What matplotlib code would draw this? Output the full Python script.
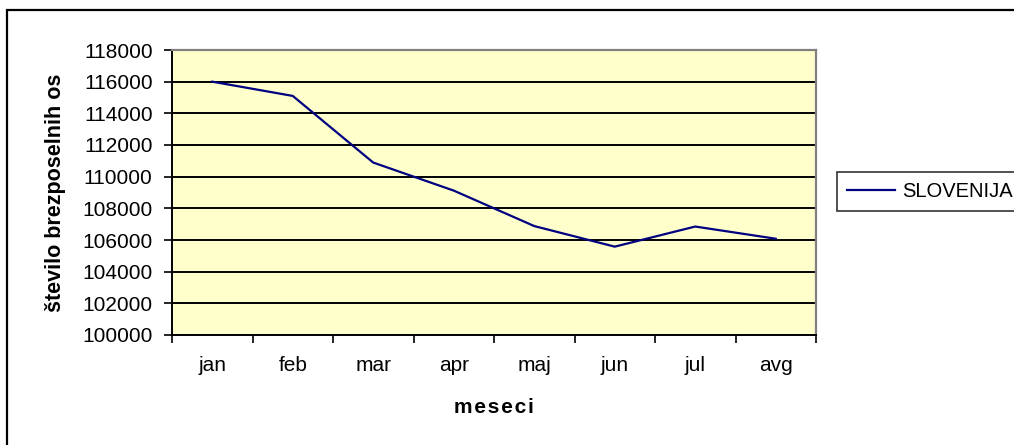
import matplotlib
matplotlib.use("Agg")
import matplotlib.pyplot as plt
from matplotlib.patches import Rectangle
from matplotlib.ticker import FixedLocator

months = ["jan", "feb", "mar", "apr", "maj", "jun", "jul", "avg"]
slovenija = [116000, 115100, 110890, 109120, 106880, 105580, 106850, 106080]
series_name = "SLOVENIJA"
y_ticks = list(range(100000, 118001, 2000))

plt.rcParams['font.family'] = ['Liberation Sans', 'DejaVu Sans']

W, H = 1014, 445
fig = plt.figure(figsize=(W / 100, H / 100), dpi=100)
fig.patch.set_facecolor('white')

# outer chart border (cropped on right and bottom)
fig.patches.append(Rectangle((7 / W, -0.05), 1.1, 1 - 10 / H + 0.05,
                             transform=fig.transFigure, fill=False,
                             edgecolor='black', linewidth=1.6, zorder=0))

ax = fig.add_axes([172 / W, 1 - 335 / H, (816 - 172) / W, (335 - 50) / H])
ax.set_facecolor('#FFFFCC')

x = list(range(len(months)))
line, = ax.plot(x, slovenija, color='#000080', linewidth=1.6, label=series_name, zorder=3)

ax.set_xlim(-0.5, len(months) - 0.5)
ax.set_ylim(y_ticks[0], y_ticks[-1])
ax.set_yticks(y_ticks)
ax.set_yticklabels([str(v) for v in y_ticks])
ax.set_xticks(x)
ax.set_xticklabels(months)
ax.xaxis.set_minor_locator(FixedLocator([i - 0.5 for i in range(len(months) + 1)]))

ax.tick_params(axis='x', which='major', length=0, pad=15, labelsize=15)
ax.tick_params(axis='x', which='minor', length=6, width=1.2, direction='out', color='black')
ax.tick_params(axis='y', which='major', length=6, width=1.2, direction='out', pad=8, labelsize=15)

ax.grid(axis='y', color='black', linewidth=1.4, zorder=1)
ax.set_axisbelow(True)

for s in ['left', 'bottom']:
    ax.spines[s].set_color('black')
    ax.spines[s].set_linewidth(1.4)
for s in ['top', 'right']:
    ax.spines[s].set_color('#808080')
    ax.spines[s].set_linewidth(1.6)

ax.set_ylabel("število brezposelnih os", fontsize=15.5, fontweight='bold', labelpad=12)
ax.set_xlabel("m\u200ae\u200as\u200ae\u200ac\u200ai", fontsize=15, fontweight='bold', labelpad=17)

leg = fig.legend(handles=[line], labels=[series_name], loc='upper left',
                 bbox_to_anchor=(837 / W, 1 - 172 / H), borderaxespad=0,
                 fontsize=14.5, frameon=True, fancybox=False, handlelength=2.4,
                 handletextpad=0.35, borderpad=0.5)
leg.get_frame().set_edgecolor('black')
leg.get_frame().set_linewidth(1.2)

fig.savefig("out.png", dpi=100)
